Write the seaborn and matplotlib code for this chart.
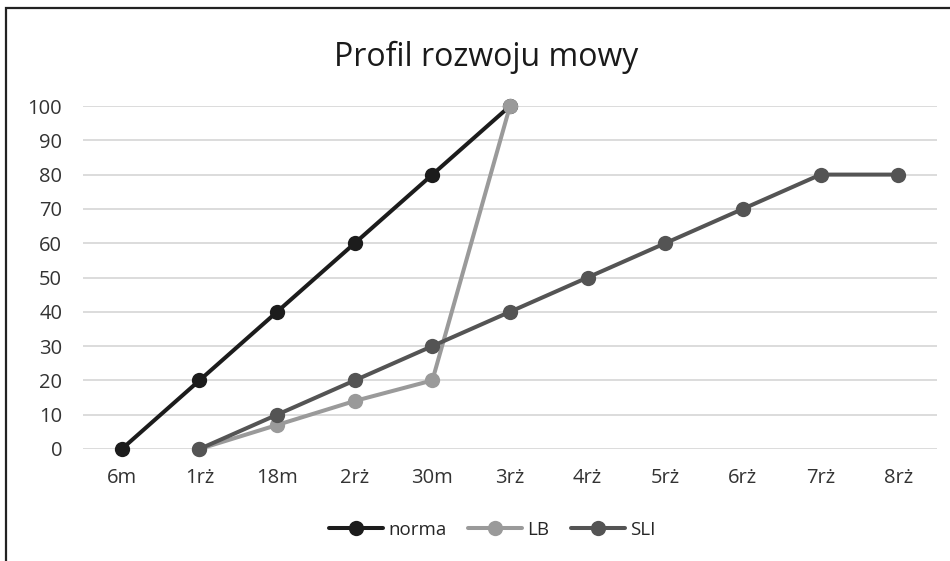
import pandas as pd
import matplotlib.pyplot as plt
import matplotlib.patches as mpatches
import seaborn as sns

# chart data
categories = ['6m', '1rż', '18m', '2rż', '30m', '3rż', '4rż', '5rż', '6rż', '7rż', '8rż']
norma = [0, 20, 40, 60, 80, 100]
lb = [0, 7, 14, 20, 100]
sli = [0, 10, 20, 30, 40, 50, 60, 70, 80, 80]
series_names = ['norma', 'LB', 'SLI']
series_start = [0, 1, 1]
series_values = [norma, lb, sli]
colors = ['#1c1c1c', '#9a9a9a', '#545454']

rows = []
for name, start, vals in zip(series_names, series_start, series_values):
    for i, v in enumerate(vals):
        rows.append({'pos': start + i, 'value': v, 'series': name})
df = pd.DataFrame(rows)

sns.set_theme(style='white')
plt.rcParams['font.family'] = ['Open Sans', 'DejaVu Sans']

fig = plt.figure(figsize=(9.5, 5.61), dpi=100)
ax = fig.add_axes([83 / 950, 1 - 449 / 561, (937 - 83) / 950, (449 - 106) / 561])

sns.lineplot(data=df, x='pos', y='value', hue='series', hue_order=series_names,
             palette=colors, marker='o', markersize=11, markeredgewidth=0,
             linewidth=2.9, ax=ax, clip_on=False, zorder=3)

ax.set_xlim(-0.5, len(categories) - 0.5)
ax.set_ylim(0, 100)
ax.set_yticks(range(0, 101, 10))
ax.set_xticks(range(len(categories)))
ax.set_xticklabels(categories)
ax.yaxis.grid(True, color='#d9d9d9', linewidth=1.3)
ax.xaxis.grid(False)
for s in ax.spines.values():
    s.set_visible(False)
ax.tick_params(axis='both', labelsize=14.5, colors='#333333', length=0)
ax.tick_params(axis='y', pad=15)
ax.tick_params(axis='x', pad=14)
ax.set_xlabel('')
ax.set_ylabel('')

fig.text(486 / 950, 1 - 57 / 561, 'Profil rozwoju mowy', ha='center', va='center',
         fontsize=23, color='#1a1a1a')

handles, labels = ax.get_legend_handles_labels()
ax.legend(handles, labels, loc='center', bbox_to_anchor=(492 / 950, 1 - 530 / 561),
          bbox_transform=fig.transFigure, ncol=3, frameon=False, fontsize=13.5,
          handlelength=2.9, handletextpad=0.25, columnspacing=1.15)

# outer frame of the picture
fig.patches.append(mpatches.Rectangle((6 / 950, -0.1), 1.2, 1 - 8 / 561 + 0.1,
                                      transform=fig.transFigure, fill=False,
                                      edgecolor='#222222', linewidth=1.6))

fig.savefig('out.png', dpi=100)
